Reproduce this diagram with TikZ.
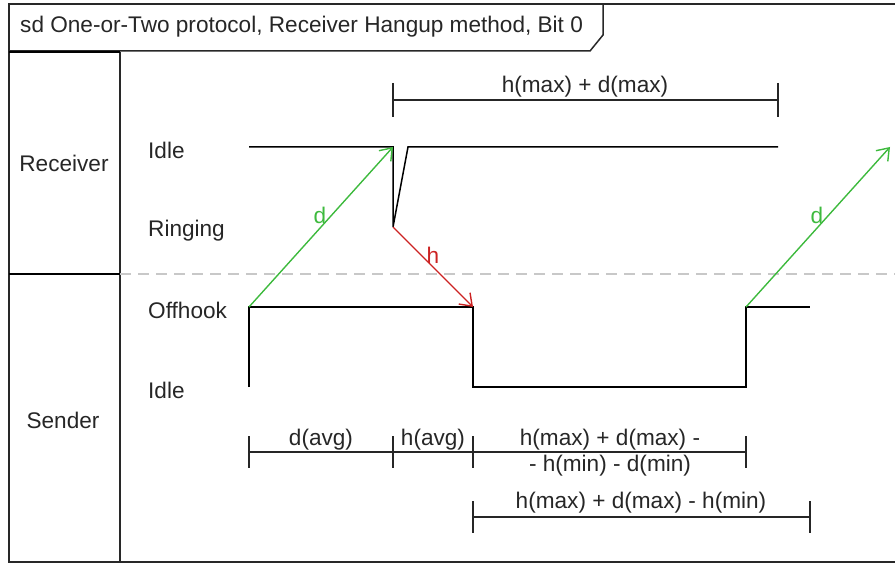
\documentclass[tikz,border=0pt]{standalone}
\usepackage{fontspec}
\setmainfont{Liberation Sans}
\usetikzlibrary{arrows.meta}
\definecolor{sigGreen}{RGB}{62,186,62}
\definecolor{hangRed}{RGB}{204,34,34}
\definecolor{laneGrey}{RGB}{200,200,200}
\definecolor{frameInk}{RGB}{40,40,40}

\begin{document}
\begin{tikzpicture}[x=1pt,y=-1pt,
  txt/.style={font=\fontsize{22.6}{27}\selectfont, inner sep=0pt, text=black!85},
  wave/.style={line width=1.5pt, black},
  frm/.style={line width=1.5pt, frameInk},
  lanebar/.style={line width=2.3pt, black},
  dimline/.style={line width=1.4pt, black!85},
  msgarrow/.style={line width=1.4pt, -{Straight Barb[length=11pt,width=16pt]}},
]
\useasboundingbox (0,0) rectangle (895,564);

% outer frame (right side runs off the page)
\draw[frm] (895,4) -- (9,4) -- (9,562) -- (895,562);

% title tab
\draw[frm] (9,51) -- (590,51) -- (603,35) -- (603,4);
\node[txt, anchor=west] (title) at (20,27) {sd One-or-Two protocol, Receiver Hangup method, Bit 0};

% lifeline column
\draw[frm] (120,52) -- (120,562);
\draw[lanebar] (9,52) -- (120,52);
\draw[lanebar] (9,274) -- (120,274);
\draw[laneGrey, line width=1.2pt, dash pattern=on 11pt off 7pt] (120,274) -- (895,274);
\node[txt] (recv) at (64,163) {Receiver};
\node[txt] (send) at (63,420) {Sender};

% state labels
\node[txt, anchor=west] (rIdle) at (148,150) {Idle};
\node[txt, anchor=west] (rRing) at (148,231) {Ringing};
\node[txt, anchor=west] (sOff) at (148,310) {Offhook};
\node[txt, anchor=west] (sIdle) at (148,390) {Idle};

% waveform points
\coordinate (r0) at (249,147);
\coordinate (r1) at (393,147);
\coordinate (r2) at (393,227);
\coordinate (r3) at (408,147);
\coordinate (r4) at (778,147);
\coordinate (s0) at (249,387);
\coordinate (s1) at (249,307);
\coordinate (s2) at (473,307);
\coordinate (s3) at (473,387);
\coordinate (s4) at (746,387);
\coordinate (s5) at (746,307);
\coordinate (s6) at (810,307);
\coordinate (r5) at (890,147);

% receiver timeline
\draw[wave] (r0) -- (r1) -- (r2) -- (r3) -- (r4);
% sender timeline
\draw[wave] (s0) -- (s1) -- (s2) -- (s3) -- (s4) -- (s5) -- (s6);

% messages
\draw[msgarrow, sigGreen] (s1) -- (r1);
\node[txt, text=sigGreen] (d1) at (320,215) {d};
\draw[msgarrow, hangRed] (r2) -- (s2);
\node[txt, text=hangRed] (h1) at (433,255) {h};
\draw[msgarrow, sigGreen] (s5) -- (r5);
\node[txt, text=sigGreen] (d2) at (817,215) {d};

% dimension above receiver
\draw[dimline] (393,100) -- (778,100);
\draw[dimline] (393,83) -- (393,117);
\draw[dimline] (778,83) -- (778,117);
\node[txt] (dimTop) at (585,87) {h(max) + d(max)};

% dimensions below sender
\draw[dimline] (249,452) -- (746,452);
\foreach \x in {249,393,473,746} \draw[dimline] (\x,436) -- (\x,468);
\node[txt] (davg) at (321,440) {d(avg)};
\node[txt] (havg) at (433,440) {h(avg)};
\node[txt] (span1a) at (610,440) {h(max) + d(max) -};
\node[txt] (span1b) at (610,466) {- h(min) - d(min)};

\draw[dimline] (473,517) -- (810,517);
\draw[dimline] (473,501) -- (473,533);
\draw[dimline] (810,501) -- (810,533);
\node[txt] (span2) at (641,503) {h(max) + d(max) - h(min)};
\end{tikzpicture}
\end{document}
